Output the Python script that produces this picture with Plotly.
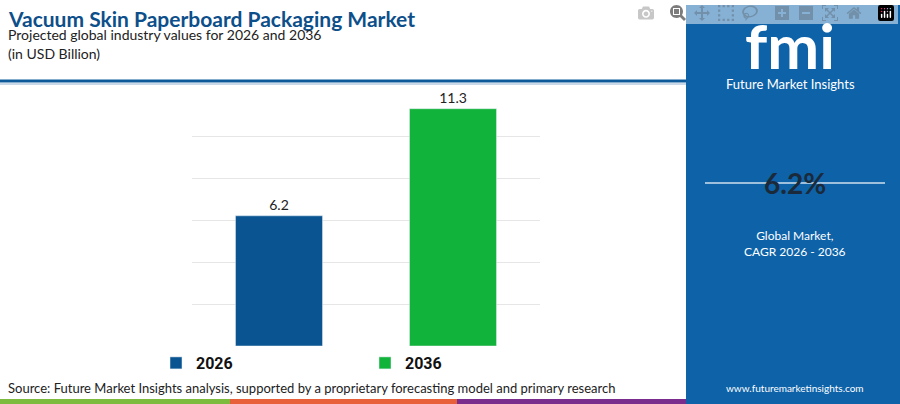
import plotly.graph_objects as go

years = ["2026", "2036"]
values = [6.2, 11.3]
colors = ["#0a5591", "#12b33a"]
title = "Vacuum Skin Paperboard Packaging Market"
subtitle = "Projected global industry values for 2026 and 2036"
unit = "(in USD Billion)"
cagr = "6.2%"

W, H = 900, 404
fig = go.Figure()
for y, v, c in zip(years, values, colors):
    fig.add_trace(go.Bar(x=[y], y=[v], name=f"<b>{y}</b>", marker_color=c, width=0.5,
                         text=[f"{v}"], textposition="outside",
                         textfont=dict(size=14, color="#222", family="Lato"),
                         cliponaxis=False))

def px(x): return x / W
def py(y): return 1 - y / H

shapes = [
    dict(type="rect", xref="paper", yref="paper", x0=px(686), x1=1, y0=0, y1=py(5),
         fillcolor="#0d62a8", line_width=0, layer="below"),
    dict(type="line", xref="paper", yref="paper", x0=0, x1=px(686), y0=py(81), y1=py(81),
         line=dict(color="#0d5a9a", width=3)),
    dict(type="line", xref="paper", yref="paper", x0=0, x1=px(686), y0=py(84), y1=py(84),
         line=dict(color="#b8cde0", width=1.5)),
    dict(type="rect", xref="paper", yref="paper", x0=0, x1=px(230), y0=0, y1=py(399),
         fillcolor="#7dbb3f", line_width=0),
    dict(type="rect", xref="paper", yref="paper", x0=px(230), x1=px(457), y0=0, y1=py(399),
         fillcolor="#e8603a", line_width=0),
    dict(type="rect", xref="paper", yref="paper", x0=px(457), x1=px(686), y0=0, y1=py(399),
         fillcolor="#7b2d8e", line_width=0),
    dict(type="line", xref="paper", yref="paper", x0=px(705), x1=px(885), y0=py(183), y1=py(183),
         line=dict(color="rgba(255,255,255,0.8)", width=1.5)),
]

def A(text, x, y, size, color, anchor="left"):
    return dict(text=text, x=px(x), y=py(y), xref="paper", yref="paper", xanchor=anchor,
                yanchor="middle", font=dict(size=size, color=color, family="Lato"), showarrow=False)

ann = [
    A(f"<b>{title}</b>", 6, 18, 21, "#0d4f8a"),
    A(subtitle, 6, 35, 14, "#222"),
    A(unit, 6, 53, 14, "#222"),
    A("<b>fmi</b>", 790, 45, 62, "white", "center"),
    A("Future Market Insights", 790, 84, 13, "white", "center"),
    A(f"<b>{cagr}</b>", 795, 183, 28, "#1b2a3a", "center"),
    A("Global Market,<br>CAGR 2026 - 2036", 795, 243, 12, "white", "center"),
    A("www.futuremarketinsights.com", 795, 388, 10, "white", "center"),
    A("Source: Future Market Insights analysis, supported by a proprietary forecasting model and primary research",
      6, 388, 13, "#222"),
]

fig.update_layout(
    width=W, height=H, margin=dict(l=0, r=0, t=0, b=0),
    paper_bgcolor="white", plot_bgcolor="white", barmode="overlay",
    shapes=shapes, annotations=ann,
    xaxis=dict(domain=[px(192), px(540)], range=[-0.5, 1.5], showticklabels=False,
               showgrid=False, zeroline=False, type="category"),
    yaxis=dict(domain=[py(346), py(94)], range=[0, 12], dtick=2, showticklabels=False,
               gridcolor="#e6e6e6", zeroline=False),
    legend=dict(orientation="h", x=px(365), y=py(363), xanchor="center", yanchor="middle",
                font=dict(size=16, color="#111", family="Roboto"), itemwidth=30,
                entrywidth=164, traceorder="normal"),
    font=dict(family="Lato"),
)
fig.write_html("out.html", post_script="document.body.style.margin='0';")
